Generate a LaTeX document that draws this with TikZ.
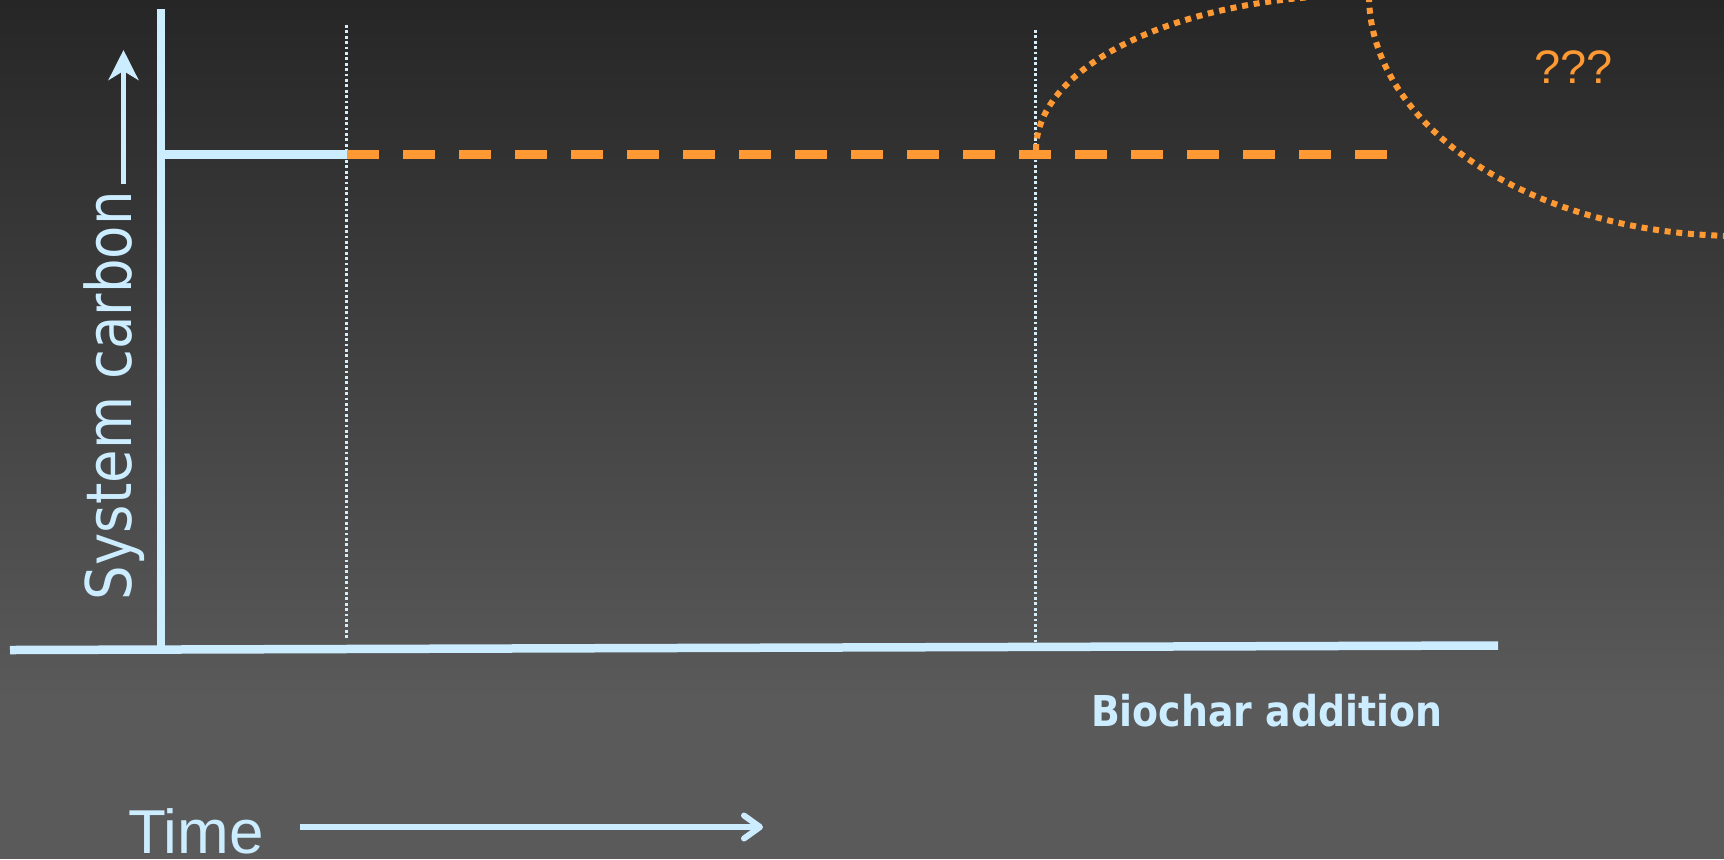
\documentclass[tikz,border=0pt]{standalone}
\usepackage{fontspec}
\usetikzlibrary{arrows.meta}
\newfontfamily\humanist[FakeStretch=0.865]{DejaVu Sans}
\newfontfamily\humanistbold[FakeStretch=0.89]{DejaVu Sans}
\newfontfamily\grotesk{Liberation Sans}
\definecolor{bgtop}{RGB}{38,38,38}
\definecolor{bgbot}{RGB}{90,90,90}
\definecolor{ice}{RGB}{204,236,255}
\definecolor{icedot}{RGB}{214,238,250}
\definecolor{amber}{RGB}{255,153,51}
\begin{document}
\begin{tikzpicture}[x=0.5pt,y=-0.5pt,
  axisline/.style={draw=ice,line width=4.25pt},
  marker/.style={draw=icedot,line width=1.35pt,dash pattern=on 1.35pt off 1.35pt},
  projection/.style={draw=amber,line width=4.5pt,dash pattern=on 16pt off 12pt},
  speculation/.style={draw=amber,line width=3pt,dash pattern=on 3pt off 2.85pt},
  yarrow/.style={draw=ice,line width=2.5pt,-{Stealth[length=15pt,width=15pt,inset=4.5pt]}},
  tarrow/.style={draw=ice,line width=3pt,-{Straight Barb[length=8pt,width=11.5pt,round]}},
  lbl/.style={inner sep=0pt,outer sep=0pt,text depth=0pt}]
\useasboundingbox (0,0) rectangle (1724,859);
% slide background
\shade[top color=bgtop,bottom color=bgbot] (0,0) rectangle (1724,700);
\fill[bgbot] (0,699) rectangle (1724,859);
\clip (0,0) rectangle (1724,859);

% axes
\coordinate (yTop) at (161,9);
\coordinate (yBot) at (161,650);
\coordinate (xL) at (10,650);
\coordinate (xR) at (1498,645.5);
\draw[axisline] (xL) -- (xR);
\draw[axisline] (yTop) -- (yBot);

% time markers
\coordinate (m1top) at (346.5,25);
\coordinate (m1bot) at (346.5,640);
\coordinate (m2top) at (1035.5,30);
\coordinate (m2bot) at (1035.5,642);
\draw[marker] (m1top) -- (m1bot);
\draw[marker] (m2top) -- (m2bot);

% carbon level: measured, then projected
\coordinate (c0) at (165,154.5);
\coordinate (c1) at (347,154.5);
\coordinate (c2) at (1388,154.5);
\draw[axisline] (c0) -- (c1);
\draw[projection] (c1) -- (c2);

% uncertain trajectory after biochar addition
\coordinate (u0) at (1036,150);
\coordinate (u1) at (1365,-5);
\coordinate (u2) at (1369,-5);
\coordinate (u3) at (1740,236);
\draw[speculation] (u0) .. controls (1036,64) and (1183,-5) .. (u1)
  -- (u2) .. controls (1369,128) and (1535,236) .. (u3);

% labels
\node[lbl,text=ice,rotate=90,anchor=base west,font=\humanist\fontsize{31.5pt}{36pt}\selectfont]
  (ylab) at (131,600) {System carbon};
\coordinate (ya0) at (123.5,184);
\coordinate (ya1) at (123.5,50);
\draw[yarrow] (ya0) -- (ya1);

\node[lbl,text=ice,anchor=base west,font=\grotesk\fontsize{31pt}{36pt}\selectfont]
  (tlab) at (128,853) {Time};
\coordinate (ta0) at (300,827);
\coordinate (ta1) at (763,827);
\draw[tarrow] (ta0) -- (ta1);

\node[lbl,text=amber,anchor=base west,font=\grotesk\fontsize{23.5pt}{28pt}\selectfont]
  (qq) at (1534,83) {???};

\node[lbl,text=ice,anchor=base west,font=\humanistbold\bfseries\fontsize{21.25pt}{26pt}\selectfont]
  (bio) at (1091,726) {Biochar addition};
\end{tikzpicture}
\end{document}
